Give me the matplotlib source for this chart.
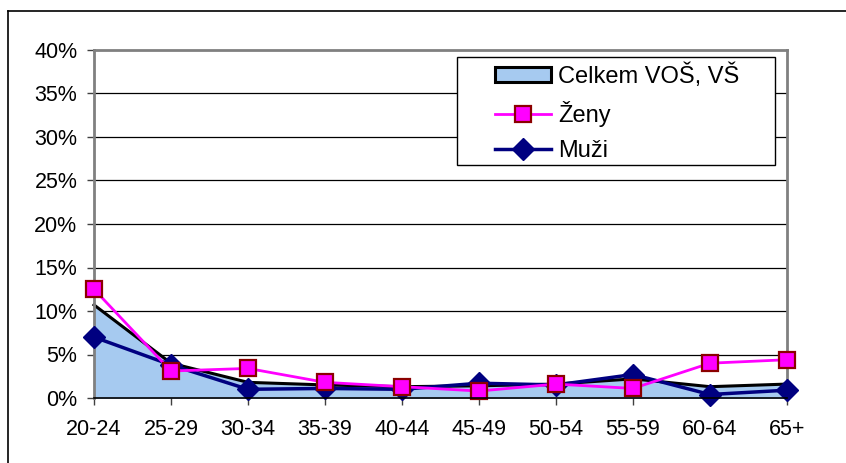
import matplotlib
matplotlib.use("Agg")
import matplotlib.pyplot as plt
from matplotlib.lines import Line2D
from matplotlib.patches import Patch, Rectangle
from matplotlib.ticker import FuncFormatter

plt.rcParams['font.family'] = ['Liberation Sans', 'DejaVu Sans']

categories = ["20-24", "25-29", "30-34", "35-39", "40-44", "45-49", "50-54", "55-59", "60-64", "65+"]
celkem = [10.7, 4.0, 1.8, 1.5, 1.3, 1.4, 1.6, 2.2, 1.3, 1.6]
zeny = [12.5, 3.1, 3.4, 1.8, 1.3, 0.8, 1.6, 1.1, 4.0, 4.4]
muzi = [7.0, 3.8, 1.0, 1.1, 1.0, 1.7, 1.5, 2.7, 0.4, 0.9]
yticks = [0, 5, 10, 15, 20, 25, 30, 35, 40]

W, H = 846, 463
fig = plt.figure(figsize=(W/100, H/100), dpi=100)
ax = fig.add_axes([94/W, 1-398/H, (787-94)/W, (398-50)/H])

x = list(range(len(categories)))
ax.fill_between(x, 0, celkem, color='#A6CAF0', zorder=1)
ax.plot(x, celkem, color='black', lw=2.2, zorder=2, clip_on=False)
ax.plot(x, muzi, color='#000080', lw=2.5, marker='D', markersize=11,
        markerfacecolor='#000080', markeredgecolor='#000080', zorder=3, clip_on=False)
ax.plot(x, zeny, color='#FF00FF', lw=2, marker='s', markersize=12,
        markerfacecolor='#FF00FF', markeredgecolor='#8B0000', markeredgewidth=1.6,
        zorder=4, clip_on=False)

ax.set_xlim(0, len(categories) - 1)
ax.set_ylim(0, 40)
ax.set_yticks(yticks)
ax.yaxis.set_major_formatter(FuncFormatter(lambda v, p: f"{int(v)}%"))
ax.set_xticks(x)
ax.set_xticklabels(categories)
ax.tick_params(axis='both', labelsize=15.5, length=5, width=1, color='#404040', direction='out')
ax.tick_params(axis='x', pad=10)
ax.tick_params(axis='y', pad=7)

for yv in yticks[1:-1]:
    ax.axhline(yv, color='black', lw=0.9, zorder=0)

for side in ['top', 'right', 'left']:
    ax.spines[side].set_color('#808080')
    ax.spines[side].set_linewidth(2)
ax.spines['bottom'].set_color('black')
ax.spines['bottom'].set_linewidth(1.2)
ax.spines['bottom'].set_zorder(5)

# legend box
fig.add_artist(Rectangle((457/W, 1-165/H), (775-457)/W, (165-57)/H,
                         transform=fig.transFigure, facecolor='white',
                         edgecolor='black', lw=1, zorder=10))

handles = [
    Patch(facecolor='#A6CAF0', edgecolor='black', linewidth=2.2),
    Line2D([], [], color='#FF00FF', lw=2, marker='s', markersize=11,
           markerfacecolor='#FF00FF', markeredgecolor='#8B0000', markeredgewidth=1.6),
    Line2D([], [], color='#000080', lw=2.5, marker='D', markersize=11,
           markerfacecolor='#000080', markeredgecolor='#000080'),
]
labels = ["Celkem VOŠ, VŠ", "Ženy", "Muži"]
leg = fig.legend(handles, labels, loc='upper left',
                 bbox_to_anchor=(490/W, 1-59/H),
                 fontsize=17, frameon=False, borderpad=0.2,
                 handlelength=2.4, handleheight=0.6, handletextpad=0.3,
                 labelspacing=0.55, borderaxespad=0)
leg.set_zorder(11)

fig.add_artist(Line2D([8/W, 8/W], [0, 1-11/H], transform=fig.transFigure, color='black', lw=1.2))
fig.add_artist(Line2D([8/W, 1], [1-11/H, 1-11/H], transform=fig.transFigure, color='black', lw=1.2))

fig.savefig("out.png", dpi=100)
